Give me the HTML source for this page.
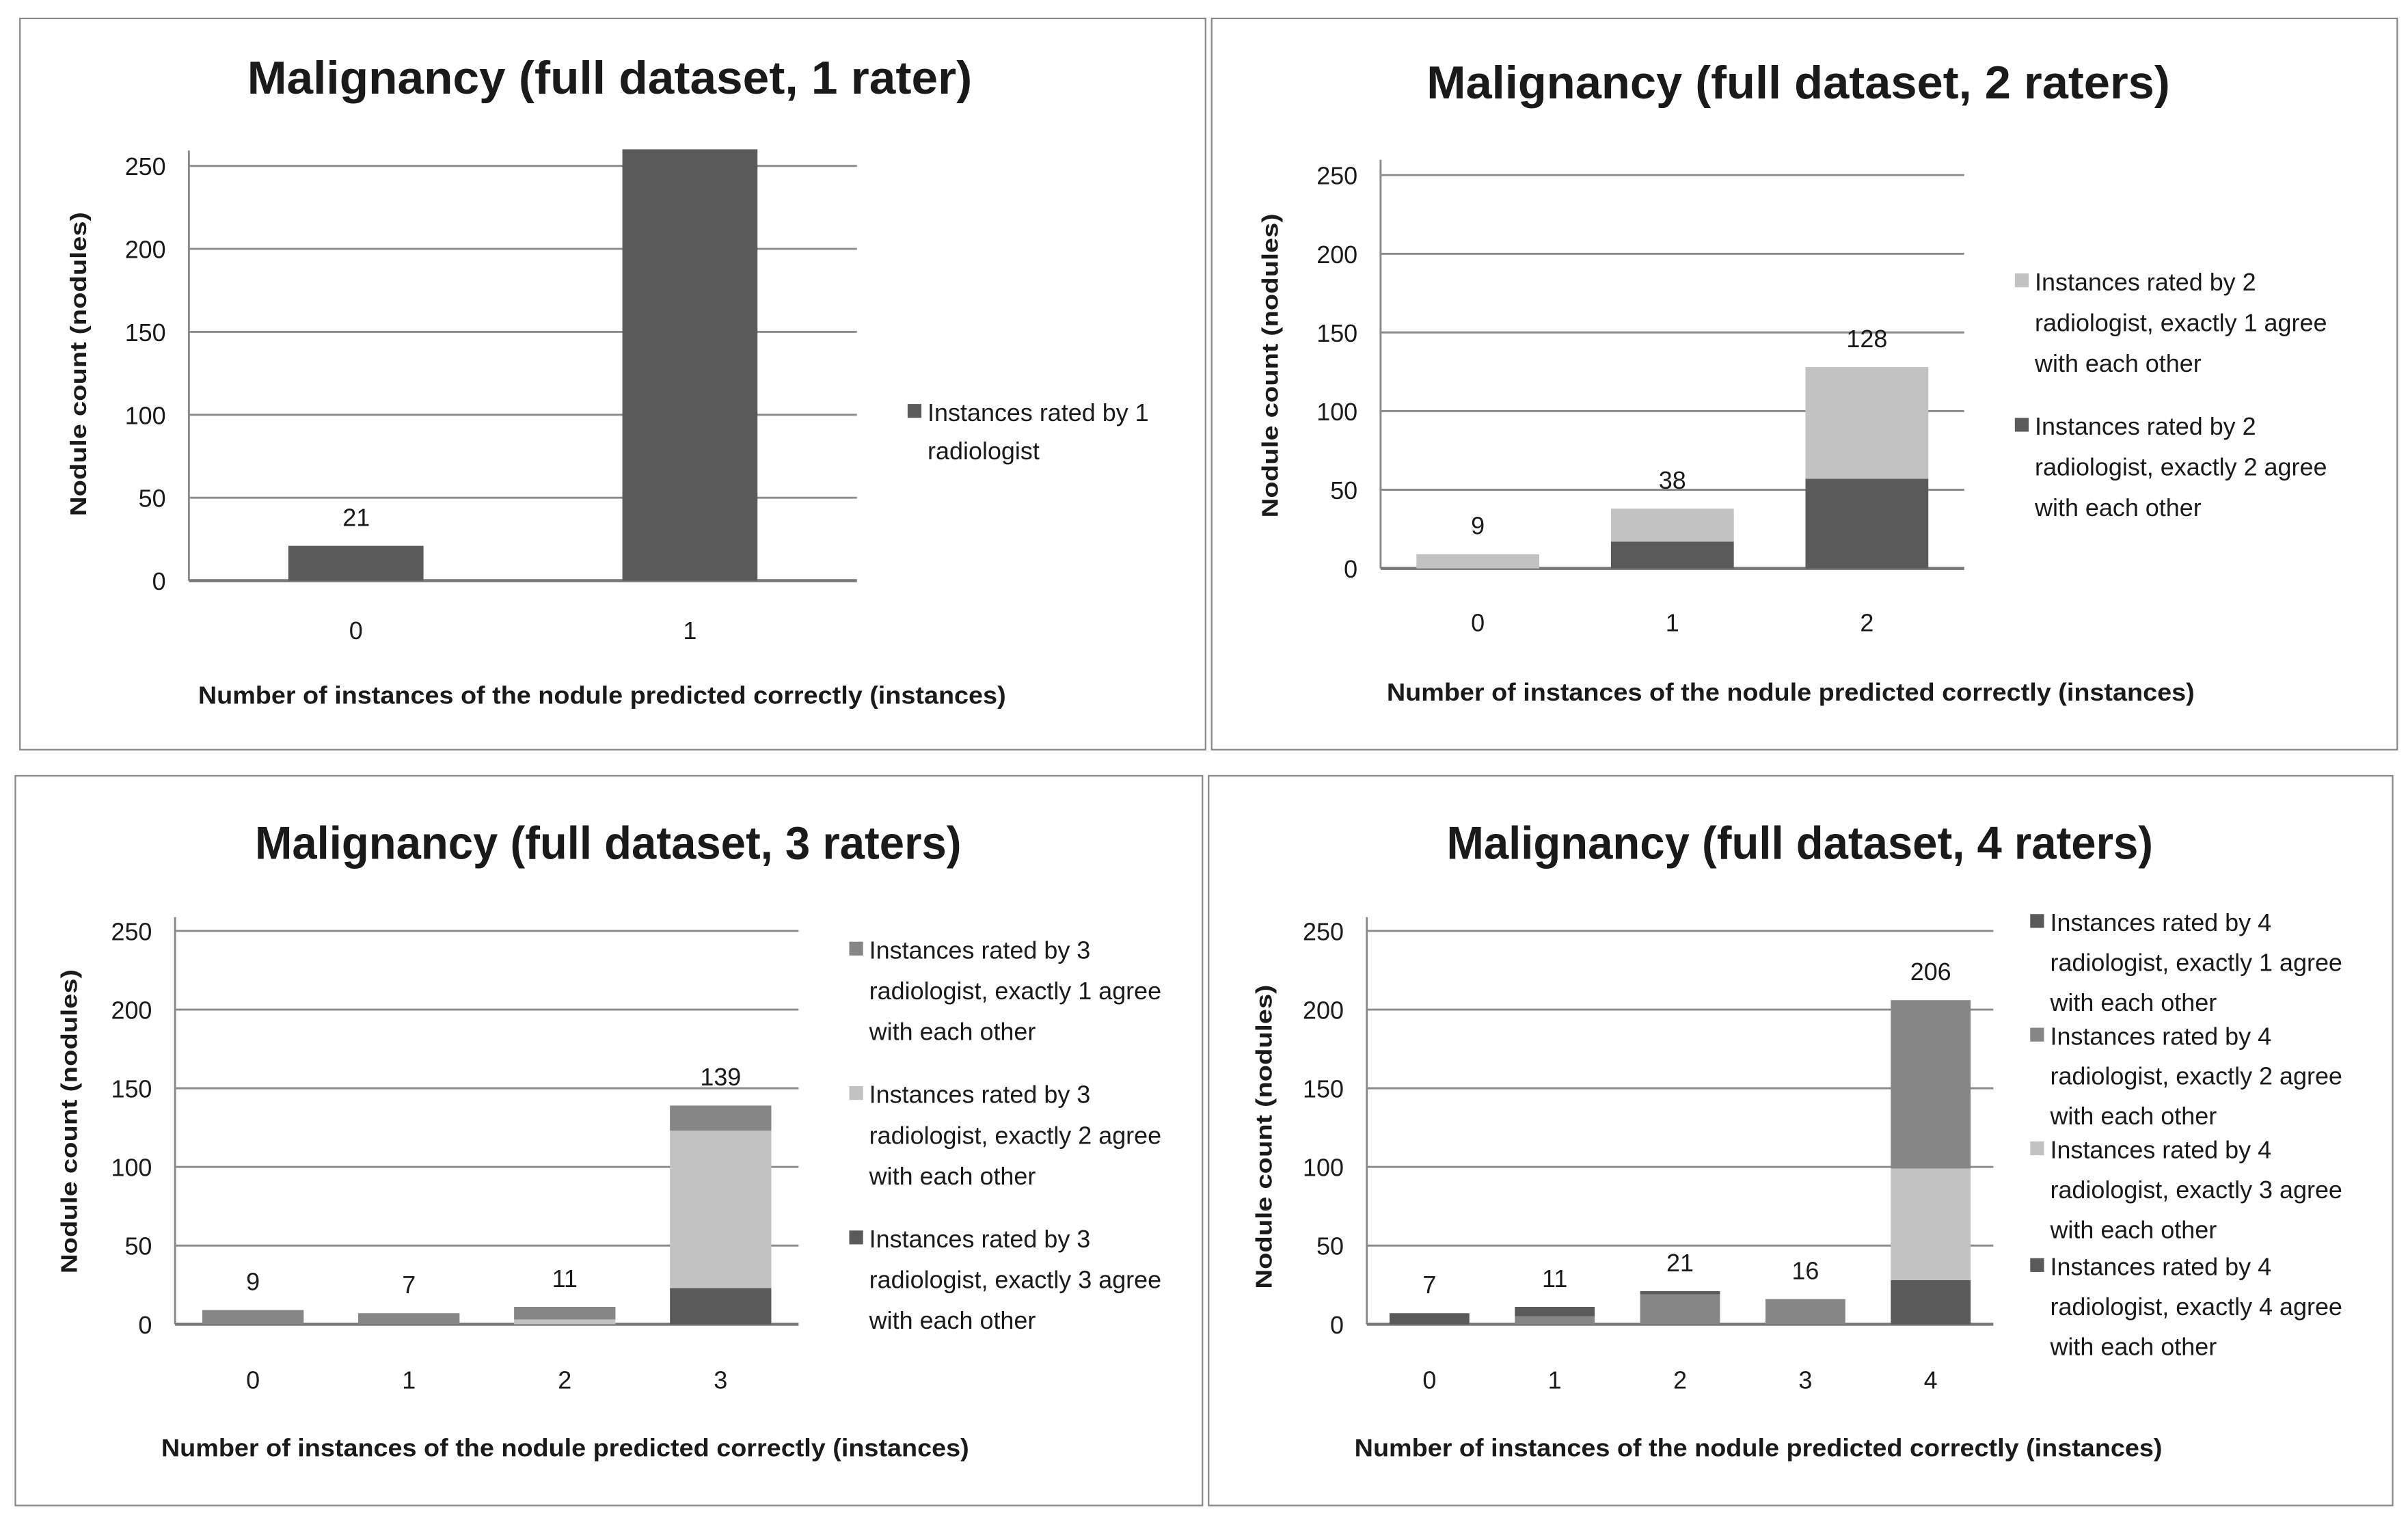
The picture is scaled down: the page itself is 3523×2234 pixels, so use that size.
<!DOCTYPE html>
<html><head><meta charset="utf-8"><style>
html,body{margin:0;padding:0;background:#fff;}
svg{display:block;}
text{font-family:"Liberation Sans",sans-serif;fill:#1a1a1a;}
</style></head><body>
<svg id="chart" width="3523" height="2234" viewBox="0 0 1568 994" preserveAspectRatio="none" xmlns="http://www.w3.org/2000/svg"></svg>
<script>
// ---- data ----
const yTicks = [0, 50, 100, 150, 200, 250];
const cats1 = ["0", "1"];
const p1_s1 = [21, 260];
const cats2 = ["0", "1", "2"];
const p2_agree2 = [0, 17, 57];
const p2_agree1 = [9, 21, 71];
const cats3 = ["0", "1", "2", "3"];
const p3_agree3 = [0, 0, 0, 23];
const p3_agree2 = [0, 0, 3, 100];
const p3_agree1 = [9, 7, 8, 16];
const cats4 = ["0", "1", "2", "3", "4"];
const p4_agree4 = [0, 0, 0, 0, 28];
const p4_agree3 = [0, 0, 0, 0, 71];
const p4_agree2 = [0, 5, 19, 16, 107];
const p4_agree1 = [7, 6, 2, 0, 0];
const legend1 = ["Instances rated by 1|radiologist"];
const legend2 = ["Instances rated by 2|radiologist, exactly 1 agree|with each other", "Instances rated by 2|radiologist, exactly 2 agree|with each other"];
const legend3 = ["Instances rated by 3|radiologist, exactly 1 agree|with each other", "Instances rated by 3|radiologist, exactly 2 agree|with each other", "Instances rated by 3|radiologist, exactly 3 agree|with each other"];
const legend4 = ["Instances rated by 4|radiologist, exactly 1 agree|with each other", "Instances rated by 4|radiologist, exactly 2 agree|with each other", "Instances rated by 4|radiologist, exactly 3 agree|with each other", "Instances rated by 4|radiologist, exactly 4 agree|with each other"];

const NS = "http://www.w3.org/2000/svg";
const svg = document.getElementById('chart');
const DARK = "#5a5a5a", MED = "#868686", LIGHT = "#c2c2c2";

function el(tag, attrs, parent, txt) {
  const e = document.createElementNS(NS, tag);
  for (const k in attrs) e.setAttribute(k, attrs[k]);
  if (txt !== undefined) e.textContent = txt;
  (parent || svg).appendChild(e);
  return e;
}

function panel(cfg) {
  const g = el('g', {});
  
  
  const b = el('rect', {x: cfg.box[0], y: cfg.box[1], width: cfg.box[2], height: cfg.box[3], fill: "none", stroke: "#888", "stroke-width": 1}, g);
  
  
  const t = el('text', {x: cfg.titleX, y: cfg.titleY, "text-anchor": "middle", "font-size": 30, "font-weight": "bold", textLength: cfg.titleW, lengthAdjust: "spacingAndGlyphs"}, g, cfg.title);
  
  
  const x0 = cfg.px0, x1 = cfg.px1, y0 = cfg.zeroY, per = cfg.per50 / 50;
  const yS = v => y0 - v * per;
  yTicks.forEach(v => {
    if (v > 0) {
      const l = el('line', {x1: x0, x2: x1, y1: yS(v), y2: yS(v), stroke: "#8a8a8a", "stroke-width": 1.3}, g);
      
      
    }
    const tl = el('text', {x: x0 - 15, y: yS(v) + 6, "text-anchor": "end", "font-size": 16}, g, String(v));
    
    
  });
  const ya = el('line', {x1: x0, x2: x0, y1: cfg.axisTop, y2: y0, stroke: "#8a8a8a", "stroke-width": 1.3}, g);
  
  
  const xa = el('line', {x1: x0, x2: x1, y1: y0, y2: y0, stroke: "#777", "stroke-width": 2}, g);
  
  
  const n = cfg.cats.length, step = (x1 - x0) / n;
  cfg.cats.forEach((c, i) => {
    const cx = x0 + step * (i + 0.5);
    let acc = 0;
    cfg.series.forEach((s, si) => {
      const v = s.data[i];
      if (v > 0) {
        const r = el('rect', {x: cx - cfg.barW / 2, y: yS(acc + v), width: cfg.barW, height: v * per, fill: s.color}, g);
        
        
      }
      acc += v;
    });
    if (cfg.showTotals) {
      const tv = el('text', {x: cx, y: yS(acc) - 13, "text-anchor": "middle", "font-size": 16}, g, String(acc));
      
      
    }
    const cl = el('text', {x: cx, y: cfg.catY, "text-anchor": "middle", "font-size": 16}, g, c);
    
    
  });
  const xt = el('text', {x: cfg.xtX, y: cfg.xtY, "text-anchor": "middle", "font-size": 16, "font-weight": "bold", textLength: 526, lengthAdjust: "spacingAndGlyphs"}, g, "Number of instances  of the nodule  predicted correctly (instances)");
  
  
  const yt = el('text', {x: 0, y: 0, "text-anchor": "middle", "font-size": 15, "font-weight": "bold", transform: `translate(${cfg.ytX},${cfg.ytY}) rotate(-90)`, textLength: 198, lengthAdjust: "spacingAndGlyphs"}, g, "Nodule count  (nodules)");
  
  
  cfg.legend.forEach((lg, li) => {
    const ly = cfg.legY[li];
    const lgG = el('g', {}, g);
    
    
    el('rect', {x: cfg.legX, y: ly - 6, width: 9, height: 9, fill: cfg.legColors[li]}, lgG);
    lg.split('|').forEach((line, k) => {
      el('text', {x: cfg.legX + 13, y: ly + 5 + k * cfg.legLH, "font-size": 16}, lgG, line);
    });
  });
}

panel({name: 'panel-1-rater', short: 'p1', box: [13, 12, 772, 476], title: "Malignancy (full dataset, 1 rater)", titleX: 397, titleY: 61, titleW: 472,
  px0: 123, px1: 558, zeroY: 378, per50: 54, axisTop: 98, barW: 88, cats: cats1,
  series: [{data: p1_s1, color: DARK}], showTotals: false, catY: 416, xtX: 392, xtY: 458, ytX: 56, ytY: 237,
  legend: legend1, legColors: [DARK], legX: 591, legY: [269], legLH: 25});
// label for bar 0 only as in original
(function(){
  const t = el('text', {x: 232, y: 378 - p1_s1[0] * 54 / 50 - 13, "text-anchor": "middle", "font-size": 16}, svg, String(p1_s1[0]));
  
  
})();

panel({name: 'panel-2-raters', short: 'p2', box: [789, 12, 772, 476], title: "Malignancy (full dataset, 2 raters)", titleX: 1171, titleY: 64, titleW: 484,
  px0: 899, px1: 1279, zeroY: 370, per50: 51.2, axisTop: 104, barW: 80, cats: cats2,
  series: [{data: p2_agree2, color: DARK}, {data: p2_agree1, color: LIGHT}], showTotals: true, catY: 411, xtX: 1166, xtY: 456, ytX: 832, ytY: 238,
  legend: legend2, legColors: [LIGHT, DARK], legX: 1312, legY: [184, 278], legLH: 26.5});

panel({name: 'panel-3-raters', short: 'p3', box: [10, 505, 773, 475], title: "Malignancy (full dataset, 3 raters)", titleX: 396, titleY: 559, titleW: 460,
  px0: 114, px1: 520, zeroY: 862, per50: 51.2, axisTop: 597, barW: 66, cats: cats3,
  series: [{data: p3_agree3, color: DARK}, {data: p3_agree2, color: LIGHT}, {data: p3_agree1, color: MED}], showTotals: true, catY: 904, xtX: 368, xtY: 948, ytX: 50, ytY: 730,
  legend: legend3, legColors: [MED, LIGHT, DARK], legX: 553, legY: [619, 713, 807], legLH: 26.5});

panel({name: 'panel-4-raters', short: 'p4', box: [787, 505, 771, 475], title: "Malignancy (full dataset, 4 raters)", titleX: 1172, titleY: 559, titleW: 460,
  px0: 890, px1: 1298, zeroY: 862, per50: 51.2, axisTop: 597, barW: 52, cats: cats4,
  series: [{data: p4_agree4, color: DARK}, {data: p4_agree3, color: LIGHT}, {data: p4_agree2, color: MED}, {data: p4_agree1, color: DARK}], showTotals: true, catY: 904, xtX: 1145, xtY: 948, ytX: 828, ytY: 740,
  legend: legend4, legColors: [DARK, MED, LIGHT, DARK], legX: 1322, legY: [601, 675, 749, 825], legLH: 26});
</script>
</body></html>
